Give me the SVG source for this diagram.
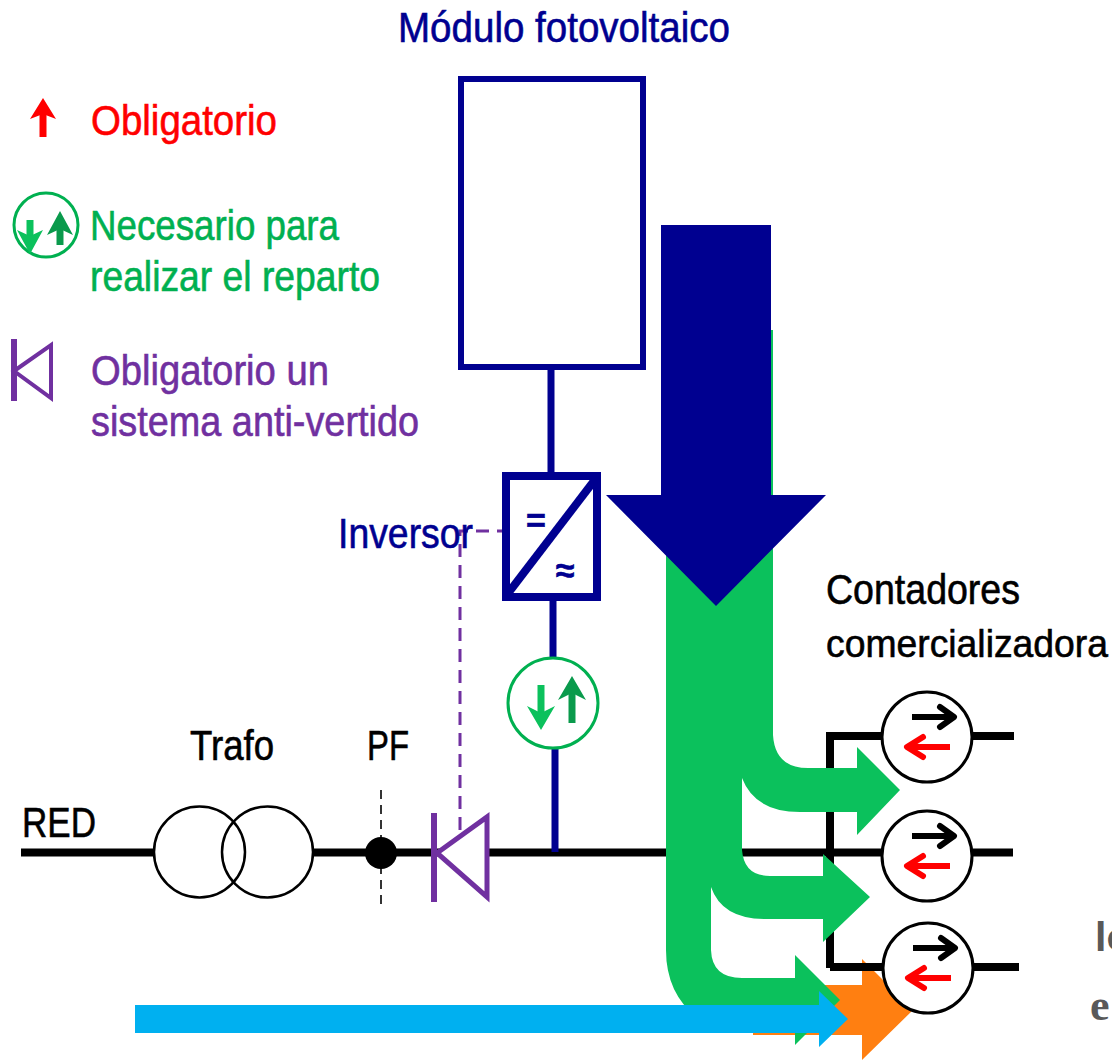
<svg xmlns="http://www.w3.org/2000/svg" width="1112" height="1060" viewBox="0 0 1112 1060">
<style>
text{font-family:"Liberation Sans",Arial,sans-serif;font-size:42px;stroke-width:.6px}
.navy{fill:#000090;stroke:#000090}.red{fill:#ff0000;stroke:#ff0000}.grn{fill:#00b050;stroke:#00b050}.pur{fill:#7030a0;stroke:#7030a0}.blk{fill:#000;stroke:#000}
.ln{fill:none;stroke:#000;stroke-width:8}
.nl{fill:none;stroke:#000090;stroke-width:7}
.ci{fill:#fff;stroke:#000;stroke-width:3}
.gc{fill:#fff;stroke:#00b050;stroke-width:3}
.ar{fill:none;stroke-width:6;stroke-linecap:round;stroke-linejoin:round}
.st{stroke-linecap:butt}
.th{stroke-width:7}
</style>
<rect width="1112" height="1060" fill="#fff"/>
<g id="legend">
<g id="legend-obligatorio">
<path class="ar st th" stroke="#ff0000" d="M43 137V108"/>
<path fill="#ff0000" d="M43 98L56 119L43 114L30 119Z"/>
<text class="red" x="91" y="135" textLength="186" lengthAdjust="spacingAndGlyphs">Obligatorio</text>
</g>
<g id="legend-reparto">
<circle class="gc" cx="46" cy="225" r="32"/>
<path class="ar st th" stroke="#0bc15c" d="M30 220V240"/>
<path fill="#0bc15c" d="M30 254L43 230L30 236L17 230Z"/>
<path class="ar st th" stroke="#0a9a4c" d="M60 245V222"/>
<path fill="#0a9a4c" d="M60 211L73 235L60 229L47 235Z"/>
<text class="grn" x="90" y="240" textLength="249" lengthAdjust="spacingAndGlyphs">Necesario para</text>
<text class="grn" x="90" y="291" textLength="290" lengthAdjust="spacingAndGlyphs">realizar el reparto</text>
</g>
<g id="legend-antivertido">
<path d="M14 339V401" fill="none" stroke="#7030a0" stroke-width="6"/>
<path d="M14 371L51 345V398Z" fill="none" stroke="#7030a0" stroke-width="4"/>
<text class="pur" x="91" y="385" textLength="238" lengthAdjust="spacingAndGlyphs">Obligatorio un</text>
<text class="pur" x="91" y="436" textLength="328" lengthAdjust="spacingAndGlyphs">sistema anti-vertido</text>
</g>
</g>
<g id="connectors">
<path id="flow-orange" fill="#ff7f11" d="M753 985H862V959L913 1010L862 1060V1035H753Z"/>
<path class="ln" d="M21 852.500H153M313 852.500H882M973 852.500H1013"/>
<path class="ln" d="M830 968V736H882M973 736H1014M830 967H882M973 967H1019"/>
<path class="nl" d="M551 370V475M553 601V660M555 748V852"/>
<path d="M460 830V531H502" fill="none" stroke="#7030a0" stroke-width="3" stroke-dasharray="13 8"/>
<path d="M381 790V908" fill="none" stroke="#333" stroke-width="2" stroke-dasharray="9 6"/>
</g>
<g id="node-modulo">
<rect x="461" y="79" width="182" height="288" fill="#fff" stroke="#000090" stroke-width="6"/>
<text class="navy" x="398" y="42" textLength="332" lengthAdjust="spacingAndGlyphs">Módulo fotovoltaico</text>
</g>
<g id="node-inversor">
<rect x="506" y="476" width="91" height="121" fill="#fff" stroke="#000090" stroke-width="8"/>
<path d="M506 596L597 477" fill="none" stroke="#000090" stroke-width="8"/>
<text class="navy" x="536" y="532" text-anchor="middle" style="font-size:34px;font-weight:bold">=</text>
<text class="navy" x="565" y="582" text-anchor="middle" style="font-size:34px;font-weight:bold">≈</text>
<text class="navy" x="338" y="548" textLength="135" lengthAdjust="spacingAndGlyphs">Inversor</text>
</g>
<g id="node-medidor-reparto">
<circle class="gc" cx="553" cy="703" r="45"/>
<path class="ar st th" stroke="#0bc15c" d="M541 685V718"/>
<path fill="#0bc15c" d="M541 730L555 706L541 713L527 706Z"/>
<path class="ar st th" stroke="#0a9a4c" d="M572 723V690"/>
<path fill="#0a9a4c" d="M572 676L586 700L572 693L558 700Z"/>
</g>
<g id="node-trafo">
<circle cx="199.500" cy="852" r="45.500" fill="none" stroke="#000" stroke-width="2.500"/>
<circle cx="267.500" cy="852" r="45.500" fill="none" stroke="#000" stroke-width="2.500"/>
<text class="blk" x="190" y="760" textLength="84" lengthAdjust="spacingAndGlyphs">Trafo</text>
</g>
<g id="node-red"><text class="blk" x="22" y="837" textLength="74" lengthAdjust="spacingAndGlyphs">RED</text></g>
<g id="node-pf">
<circle cx="381" cy="853" r="16" fill="#000"/>
<text class="blk" x="367" y="760" textLength="42" lengthAdjust="spacingAndGlyphs">PF</text>
</g>
<g id="node-antivertido">
<path d="M434 813V902" fill="none" stroke="#7030a0" stroke-width="6"/>
<path d="M437 853L487 817V897Z" fill="#fff" stroke="#7030a0" stroke-width="5"/>
</g>
<g id="node-contadores">
<text class="blk" x="826" y="604" textLength="194" lengthAdjust="spacingAndGlyphs">Contadores</text>
<text class="blk" x="826" y="657" textLength="282" lengthAdjust="spacingAndGlyphs" style="font-size:39px">comercializadora</text>
</g>
<g id="node-contador-1">
<circle class="ci" cx="927" cy="737" r="45"/>
<path class="ar st" stroke="#000" d="M912 717H952"/>
<path class="ar" stroke="#000" d="M940 707L954 717L940 727"/>
<path class="ar st" stroke="#ff0000" d="M950 747H908"/>
<path class="ar" stroke="#ff0000" d="M923 737L907 747L923 757"/>
</g>
<g id="node-contador-2">
<circle class="ci" cx="927" cy="856" r="45"/>
<path class="ar st" stroke="#000" d="M912 836H952"/>
<path class="ar" stroke="#000" d="M940 826L954 836L940 846"/>
<path class="ar st" stroke="#ff0000" d="M950 866H908"/>
<path class="ar" stroke="#ff0000" d="M923 856L907 866L923 876"/>
</g>
<g id="node-contador-3">
<circle class="ci" cx="928" cy="968" r="45"/>
<path class="ar st" stroke="#000" d="M913 948H953"/>
<path class="ar" stroke="#000" d="M941 938L955 948L941 958"/>
<path class="ar st" stroke="#ff0000" d="M951 978H909"/>
<path class="ar" stroke="#ff0000" d="M924 968L908 978L924 988"/>
</g>
<g id="flows">
<path id="flow-green" fill="#0bc15c" d="M666 330H773V735Q775 768 808 768H857V747L900 790L857 835V812H800Q755 812 742 778V850Q744 876 770 876H823V854L870 897L823 942V919H765Q722 919 711 887V950Q712 978 742 978H795V955L840 1000L795 1045V1030H720L700 1020Q666 995 666 950Z"/>
<path id="flow-navy" fill="#000090" d="M661 225H771V495H826L716 606L606 495H661Z"/>
<path id="flow-blue" fill="#00b0f0" d="M135 1005H819V991L848 1019L819 1047V1033H135Z"/>
</g>
<g id="cropped-text">
<text x="1095" y="951" style="font-size:41px;font-weight:bold;fill:#595959;stroke:none">lo</text>
<text x="1090" y="1020" style="font-family:'Liberation Serif',serif;font-size:44px;font-weight:bold;fill:#595959;stroke:none">e</text>
</g>
</svg>
